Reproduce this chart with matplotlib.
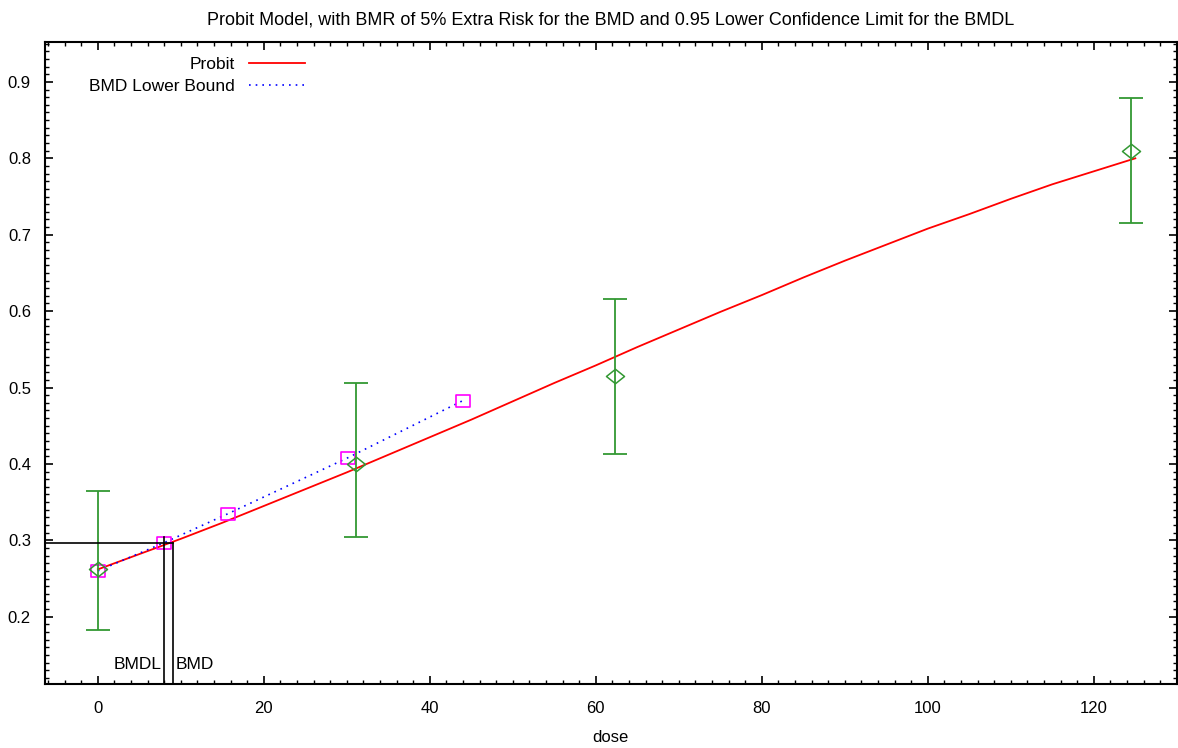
import matplotlib
matplotlib.use("Agg")
import matplotlib.pyplot as plt
from matplotlib.ticker import MultipleLocator
from matplotlib.path import Path

plt.rcParams['font.family'] = ['Liberation Sans', 'DejaVu Sans']

# observed data with confidence intervals
dose = [0, 31.1, 62.3, 124.5]
resp = [0.263, 0.400, 0.515, 0.810]
ci_lo = [0.183, 0.304, 0.413, 0.715]
ci_hi = [0.364, 0.506, 0.616, 0.879]

# fitted probit curve
curve_dose = [0, 5, 10, 15, 20, 25, 30, 35, 40, 45, 50, 55, 60, 65, 70,
              75, 80, 85, 90, 95, 100, 105, 110, 115, 120, 125]
curve_resp = [0.262, 0.282, 0.302, 0.323, 0.345, 0.367, 0.389, 0.412,
              0.435, 0.458, 0.482, 0.506, 0.529, 0.553, 0.576, 0.599,
              0.621, 0.644, 0.666, 0.687, 0.708, 0.727, 0.747, 0.766,
              0.783, 0.800]

# lower bound curve
lb_dose = [0, 8.0, 15.7, 30.1, 44.0]
lb_resp = [0.260, 0.297, 0.335, 0.408, 0.483]

bmd = 9.1
bmdl = 8.0
bmr_level = 0.297
bmdl_top = 0.304

green = '#339933'
diamond = Path([(-1, 0), (0, 0.8), (1, 0), (0, -0.8), (-1, 0)],
               [Path.MOVETO, Path.LINETO, Path.LINETO, Path.LINETO, Path.CLOSEPOLY])
box = Path([(-1, -0.8), (1, -0.8), (1, 0.8), (-1, 0.8), (-1, -0.8)],
           [Path.MOVETO, Path.LINETO, Path.LINETO, Path.LINETO, Path.CLOSEPOLY])

fig = plt.figure(figsize=(11.78, 7.48), dpi=100)
ax = fig.add_axes([0.038, 0.0856, 0.961, 0.858])

ax.plot(curve_dose, curve_resp, color='red', lw=1.3, label='Probit')
ax.plot(lb_dose, lb_resp, color='blue', lw=1.2, ls=(0, (1, 3)), label='BMD Lower Bound')
ax.plot(lb_dose, lb_resp, ls='none', marker=box, ms=10, mfc='none', mec='magenta', mew=1.2)

yerr = [[r - l for r, l in zip(resp, ci_lo)], [h - r for r, h in zip(resp, ci_hi)]]
ax.errorbar(dose, resp, yerr=yerr, fmt='none', ecolor=green, elinewidth=1.3,
            capsize=8.5, capthick=1.3)
ax.plot(dose, resp, ls='none', marker=diamond, ms=13, mfc='none', mec=green, mew=1.1)

# BMD / BMDL markers
ax.plot([-6.4, bmd], [bmr_level, bmr_level], color='black', lw=1.2)
ax.plot([bmd, bmd], [0.112, bmr_level], color='black', lw=1.2)
ax.plot([bmdl, bmdl], [0.112, bmdl_top], color='black', lw=1.2)
ax.text(bmdl - 0.3, 0.137, 'BMDL', ha='right', va='center', fontsize=12.5)
ax.text(bmd + 0.3, 0.137, 'BMD', ha='left', va='center', fontsize=12.5)

ax.set_xlim(-6.4, 130)
ax.set_ylim(0.112, 0.952)
ax.xaxis.set_major_locator(MultipleLocator(20))
ax.xaxis.set_minor_locator(MultipleLocator(2))
ax.yaxis.set_major_locator(MultipleLocator(0.1))
ax.yaxis.set_minor_locator(MultipleLocator(0.01))
ax.tick_params(which='both', direction='in', top=True, right=True, labelsize=12)
ax.tick_params(which='major', length=6, width=1.2)
ax.tick_params(which='minor', length=3, width=1)
ax.tick_params(axis='x', pad=12)
ax.tick_params(axis='y', pad=10)
for s in ax.spines.values():
    s.set_linewidth(1.5)

ax.set_xlabel('dose', fontsize=12, labelpad=10)
ax.set_title('Probit Model, with BMR of 5% Extra Risk for the BMD and 0.95 Lower Confidence Limit for the BMDL',
             fontsize=13, pad=13)

leg = ax.legend(loc='upper right', bbox_to_anchor=(0.236, 0.988), borderaxespad=0,
                frameon=False, markerfirst=False, fontsize=12.5, handlelength=3.2,
                handletextpad=0.85, labelspacing=0.4)
for t in leg.get_texts():
    t.set_ha('right')

fig.savefig('out.png', dpi=100)
